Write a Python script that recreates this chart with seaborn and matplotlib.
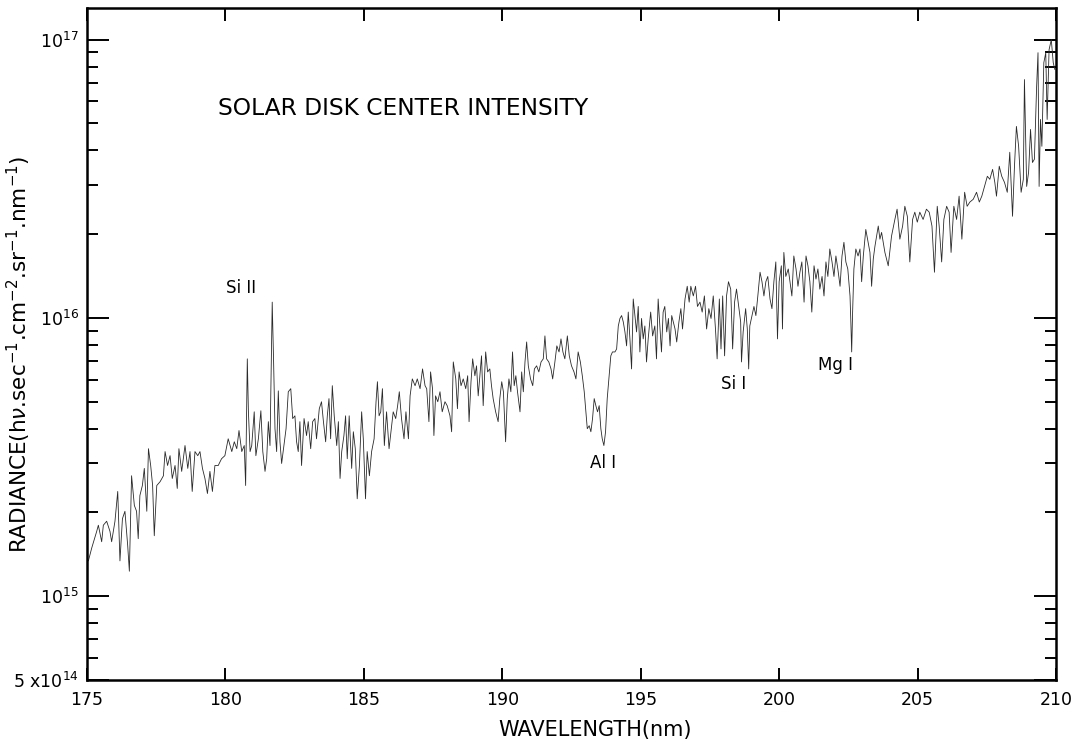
import numpy as np
import pandas as pd
import matplotlib
matplotlib.use("Agg")
import matplotlib.pyplot as plt
import matplotlib.ticker as mticker
import seaborn as sns

# ---- data (radiance in units of 1e15 hv s-1 cm-2 sr-1 nm-1) ----
wl_a = [175.05, 175.17, 175.35, 175.41, 175.53, 175.59, 175.71, 175.83, 175.89, 176.01,
        176.11, 176.19, 176.28, 176.37, 176.47, 176.53, 176.61, 176.71, 176.79, 176.85,
        176.91, 177.00, 177.07, 177.16, 177.22, 177.30, 177.37, 177.43, 177.52, 177.64,
        177.76, 177.82, 177.91, 178.00, 178.08, 178.18, 178.26, 178.32, 178.42, 178.54,
        178.64, 178.72, 178.80, 178.90, 179.00, 179.08, 179.17, 179.26, 179.35, 179.44,
        179.53, 179.62, 179.74, 179.86, 179.98, 180.10, 180.23, 180.32, 180.41, 180.49,
        180.59, 180.68, 180.73, 180.79, 180.83, 180.89, 180.95, 181.04, 181.10, 181.19,
        181.28, 181.35, 181.43, 181.49, 181.55, 181.61, 181.65, 181.69, 181.74, 181.79,
        181.85, 181.91, 181.97, 182.03]
rad_a = [1.34, 1.49, 1.71, 1.80, 1.57, 1.80, 1.86, 1.71, 1.57, 1.86,
         2.38, 1.34, 1.90, 2.02, 1.52, 1.23, 2.71, 2.12, 2.02, 1.61,
         2.30, 2.50, 2.88, 2.02, 3.39, 2.95, 2.50, 1.65, 2.50, 2.58,
         2.71, 3.31, 2.95, 3.20, 2.65, 2.95, 2.44, 3.39, 2.81, 3.48,
         2.88, 3.31, 2.38, 3.31, 3.20, 3.31, 2.88, 2.65, 2.34, 2.81,
         2.38, 2.95, 2.95, 3.12, 3.20, 3.68, 3.31, 3.59, 3.39, 3.94,
         3.31, 3.48, 2.50, 7.13, 4.60, 3.31, 3.48, 4.60, 3.20, 3.68,
         4.64, 3.31, 2.81, 3.12, 4.24, 3.48, 6.40, 11.4, 6.95, 4.00,
         3.31, 5.47, 3.59, 3.00]

wl_b = [182.19, 182.27, 182.36, 182.43, 182.51, 182.57, 182.63, 182.69, 182.75, 182.84,
        182.93, 182.99, 183.08, 183.15, 183.23, 183.29, 183.39, 183.47, 183.54, 183.62,
        183.68, 183.74, 183.80, 183.86, 183.93, 184.02, 184.08, 184.14, 184.20, 184.28,
        184.34, 184.40, 184.47, 184.56, 184.62, 184.69, 184.76, 184.84, 184.92, 184.98,
        185.06, 185.12, 185.20, 185.28, 185.37, 185.44, 185.49, 185.55, 185.61, 185.67,
        185.74, 185.82, 185.91, 185.98, 186.06, 186.15, 186.22, 186.28, 186.36, 186.45,
        186.52, 186.61, 186.67, 186.75, 186.85, 186.93, 187.03, 187.12, 187.21, 187.27,
        187.35, 187.41, 187.48, 187.53, 187.59, 187.67, 187.75, 187.83, 187.93, 188.01,
        188.11, 188.17, 188.23, 188.32, 188.38, 188.44, 188.51, 188.59, 188.68, 188.75,
        188.80, 188.87, 188.93, 189.01, 189.07, 189.13]
rad_b = [4.00, 5.43, 5.57, 4.35, 4.45, 3.59, 3.31, 4.24, 2.95, 4.35,
         3.78, 4.24, 3.39, 4.24, 4.35, 3.68, 4.72, 5.00, 4.24, 3.59,
         4.45, 5.13, 3.68, 5.71, 4.45, 3.48, 4.24, 2.65, 3.31, 3.78,
         4.45, 3.12, 4.45, 2.88, 3.90, 3.39, 2.24, 2.95, 4.60, 3.68,
         2.24, 3.31, 2.71, 3.31, 3.68, 5.00, 5.90, 4.45, 4.60, 5.57,
         3.48, 4.60, 3.39, 3.90, 4.60, 4.35, 4.84, 5.43, 4.35, 3.68,
         4.60, 3.68, 5.25, 6.04, 5.71, 6.04, 5.57, 6.56, 5.71, 5.57,
         4.24, 6.40, 5.57, 3.78, 5.25, 5.00, 5.43, 4.60, 5.00, 4.84,
         4.45, 3.90, 6.95, 6.04, 4.72, 6.40, 5.71, 6.04, 5.57, 6.20,
         4.24, 5.90, 7.13, 6.20, 6.73, 5.25]

wl_c = [189.25, 189.31, 189.40, 189.47, 189.55, 189.61, 189.67, 189.76, 189.85, 189.91,
        189.98, 190.04, 190.12, 190.18, 190.24, 190.31, 190.37, 190.43, 190.49, 190.55,
        190.64, 190.70, 190.76, 190.82, 190.88, 190.94, 191.02, 191.10, 191.16, 191.24,
        191.32, 191.40, 191.48, 191.54, 191.60, 191.68, 191.76, 191.82, 191.90, 191.97,
        192.05, 192.12, 192.19, 192.26, 192.35, 192.42, 192.50, 192.59, 192.66, 192.74,
        192.82, 192.89, 192.96, 193.02, 193.07, 193.14, 193.20, 193.26, 193.32, 193.38,
        193.44, 193.50, 193.56, 193.61, 193.67, 193.73, 193.79, 193.85, 193.92, 193.98,
        194.07, 194.13, 194.19, 194.25, 194.31, 194.37, 194.43, 194.49, 194.55, 194.61,
        194.67, 194.73, 194.79, 194.85, 194.91, 194.97, 195.03, 195.09, 195.15, 195.21,
        195.27, 195.36, 195.43, 195.51, 195.57, 195.63, 195.69, 195.75, 195.81, 195.87,
        195.94, 196.00, 196.06, 196.12]
rad_c = [7.31, 4.84, 7.55, 6.40, 6.56, 5.71, 5.13, 4.60, 4.24, 5.13,
         5.90, 5.43, 3.59, 5.13, 6.04, 5.43, 7.55, 5.71, 6.20, 5.43,
         4.60, 6.40, 5.43, 6.95, 8.20, 6.73, 6.04, 5.71, 6.56, 6.73,
         6.40, 6.95, 7.13, 8.62, 7.13, 6.95, 6.56, 6.04, 6.95, 7.94,
         7.55, 8.41, 7.55, 7.13, 8.62, 7.31, 6.73, 6.40, 6.04, 7.55,
         6.95, 6.20, 5.43, 4.60, 4.00, 4.10, 3.90, 4.35, 5.13, 4.84,
         4.60, 4.84, 4.00, 3.68, 3.48, 3.90, 5.13, 6.04, 7.31, 7.55,
         7.55, 7.74, 9.36, 9.96, 10.2, 9.68, 8.91, 7.94, 10.5, 8.41,
         6.56, 11.7, 10.2, 8.91, 11.0, 7.55, 9.96, 8.41, 9.36, 6.95,
         8.41, 10.5, 8.62, 9.36, 7.13, 11.7, 9.36, 7.55, 10.5, 11.0,
         8.91, 9.96, 7.94, 10.2]

wl_d = [196.24, 196.30, 196.38, 196.45, 196.51, 196.60, 196.68, 196.75, 196.81, 196.90,
        196.98, 197.05, 197.14, 197.22, 197.30, 197.38, 197.46, 197.54, 197.62, 197.70,
        197.76, 197.84, 197.90, 197.96, 198.03, 198.10, 198.17, 198.25, 198.32, 198.39,
        198.46, 198.54, 198.61, 198.64, 198.70, 198.79, 198.85, 198.90, 198.94, 199.02,
        199.09, 199.16, 199.23, 199.31, 199.38, 199.45, 199.52, 199.59, 199.67, 199.74,
        199.81, 199.88, 199.94, 200.00, 200.08, 200.12, 200.17, 200.24, 200.33, 200.39,
        200.46, 200.53, 200.61, 200.68, 200.75, 200.82, 200.90, 200.97, 201.04, 201.11,
        201.18, 201.26, 201.33, 201.40, 201.47, 201.55, 201.62, 201.69, 201.76, 201.83,
        201.91, 201.98, 202.05, 202.12, 202.20, 202.27, 202.34, 202.41, 202.48, 202.56,
        202.59, 202.62, 202.65, 202.70, 202.77, 202.85, 202.92, 202.98, 203.04, 203.13]
rad_d = [9.13, 8.20, 9.68, 10.8, 9.13, 11.7, 13.0, 11.4, 13.0, 12.0,
         13.0, 11.0, 11.4, 10.5, 12.0, 9.13, 10.8, 9.96, 12.0, 9.13,
         7.13, 11.7, 7.74, 12.0, 7.31, 12.0, 13.5, 12.7, 7.74, 11.4,
         12.7, 11.0, 9.68, 6.95, 8.91, 10.8, 9.13, 6.56, 9.36, 10.2,
         11.0, 10.2, 12.0, 14.6, 13.5, 12.0, 13.5, 14.1, 11.7, 10.8,
         13.5, 15.9, 8.41, 13.5, 15.4, 9.13, 17.2, 14.1, 15.0, 13.5,
         12.0, 16.7, 15.0, 13.0, 14.6, 15.9, 11.4, 16.7, 15.4, 13.5,
         10.5, 15.4, 13.8, 15.0, 12.7, 14.1, 12.0, 15.9, 14.1, 17.7,
         15.9, 14.1, 16.7, 15.0, 13.0, 16.7, 18.7, 15.9, 15.0, 12.0,
         9.68, 7.55, 10.2, 15.0, 17.7, 16.7, 17.7, 13.5, 16.7, 20.8]

wl_e = [203.28, 203.34, 203.40, 203.46, 203.58, 203.64, 203.70, 203.82, 203.94, 204.06,
        204.18, 204.26, 204.36, 204.46, 204.54, 204.63, 204.72, 204.82, 204.90, 204.99,
        205.08, 205.20, 205.32, 205.42, 205.52, 205.61, 205.71, 205.78, 205.87, 205.95,
        206.05, 206.14, 206.21, 206.31, 206.41, 206.50, 206.60, 206.70, 206.79, 206.89,
        207.01, 207.13, 207.23, 207.32, 207.42, 207.52, 207.61, 207.71, 207.79, 207.85,
        207.95, 208.04, 208.14, 208.24, 208.33, 208.43, 208.50, 208.57, 208.65, 208.74,
        208.82, 208.86, 208.94, 209.01, 209.08, 209.15, 209.22, 209.30, 209.35, 209.39,
        209.44, 209.49, 209.56, 209.63, 209.68, 209.75, 209.83, 209.90, 209.96]
rad_e = [17.2, 13.0, 16.3, 18.1, 21.4, 19.2, 20.3, 17.2, 15.4, 19.7,
         22.6, 24.6, 19.2, 21.4, 25.2, 23.2, 15.9, 22.6, 24.0, 22.1,
         24.0, 22.6, 24.6, 24.0, 21.4, 14.6, 25.2, 21.4, 15.9, 22.6,
         25.2, 24.0, 17.2, 25.2, 22.6, 27.4, 19.2, 28.3, 25.2, 26.1,
         26.7, 28.3, 26.1, 27.4, 29.7, 32.3, 31.5, 34.2, 30.7, 27.4,
         35.1, 32.3, 30.7, 28.3, 39.4, 23.2, 35.1, 48.8, 41.4, 28.3,
         31.5, 71.9, 29.7, 33.4, 47.6, 36.2, 37.2, 67.8, 89.8, 29.7,
         51.7, 41.4, 82.7, 89.8, 51.7, 92.1, 100.0, 82.7, 78.1]

line_labels = ["Si II", "Al I", "Si I", "Mg I"]
title_text = "SOLAR DISK CENTER INTENSITY"
x_ticks = [175, 180, 185, 190, 195, 200, 205, 210]
y_major = [5e14, 1e15, 1e16, 1e17]
y_major_labels = [r"5 x$10^{14}$", r"$10^{15}$", r"$10^{16}$", r"$10^{17}$"]

wavelength = wl_a + wl_b + wl_c + wl_d + wl_e
radiance = np.array(rad_a + rad_b + rad_c + rad_d + rad_e) * 1e15
df = pd.DataFrame({"wavelength": wavelength, "radiance": radiance})

# ---- styling ----
sns.set_style("ticks")
plt.rcParams["font.family"] = ["DejaVu Sans"]
plt.rcParams["mathtext.fontset"] = "dejavusans"
plt.rcParams["text.color"] = "black"
plt.rcParams["axes.labelcolor"] = "black"
plt.rcParams["xtick.color"] = "black"
plt.rcParams["ytick.color"] = "black"

fig = plt.figure(figsize=(10.82, 7.43), dpi=100)
ax = fig.add_axes([87 / 1082, 1 - 680 / 743, (1056 - 87) / 1082, (680 - 8) / 743])

sns.lineplot(data=df, x="wavelength", y="radiance", ax=ax, estimator=None,
             sort=False, color="#2a2a2a", linewidth=0.6)

ax.set_yscale("log")
ax.set_xlim(175, 210)
ax.set_ylim(5e14, 1.30e17)

ax.xaxis.set_major_locator(mticker.FixedLocator(x_ticks))
ax.xaxis.set_major_formatter(mticker.FixedFormatter([str(t) for t in x_ticks]))
ax.xaxis.set_minor_locator(mticker.NullLocator())

ax.yaxis.set_major_locator(mticker.FixedLocator(y_major))
ax.yaxis.set_major_formatter(mticker.FixedFormatter(y_major_labels))
minor_vals = [m * 10.0 ** e for e in (14, 15, 16) for m in range(2, 10)]
minor_vals = [v for v in minor_vals if 5e14 < v < 1.3e17 and v not in (1e15, 1e16, 1e17)]
ax.yaxis.set_minor_locator(mticker.FixedLocator(minor_vals))
ax.yaxis.set_minor_formatter(mticker.NullFormatter())

for s in ax.spines.values():
    s.set_visible(True)
    s.set_linewidth(1.8)
    s.set_color("black")

ax.tick_params(axis="x", which="major", direction="in", length=9, width=1.4,
               top=True, bottom=True, labelsize=12.5, pad=8, colors="black")
ax.tick_params(axis="y", which="major", direction="in", length=16, width=1.4,
               left=True, right=True, labelsize=12.5, pad=6, colors="black")
ax.tick_params(axis="y", which="minor", direction="in", length=8, width=1.4,
               left=True, right=True, colors="black")
# hide the 5e14 major tick line (it coincides with the bottom spine)
for t in ax.yaxis.get_major_ticks():
    if abs(t.get_loc() - 5e14) < 1:
        t.tick1line.set_visible(False)
        t.tick2line.set_visible(False)

ax.set_xlabel("WAVELENGTH(nm)", fontsize=15, color="black")
ax.xaxis.set_label_coords(0.524, -0.060)
ax.set_ylabel(r"RADIANCE(h$\nu$.sec$^{-1}$.cm$^{-2}$.sr$^{-1}$.nm$^{-1}$)", fontsize=15.5,
              color="black")
ax.yaxis.set_label_coords(-0.056, 0.484)

ax.text(0.135, 0.851, title_text, transform=ax.transAxes, fontsize=16.8,
        ha="left", va="center", color="black")

label_pos = [(0.159, 0.583), (0.5325, 0.323), (0.667, 0.440), (0.772, 0.469)]
for lab, (px, py) in zip(line_labels, label_pos):
    ax.text(px, py, lab, transform=ax.transAxes, fontsize=12, ha="center", va="center",
            color="black")

fig.savefig("out.png", dpi=100)
